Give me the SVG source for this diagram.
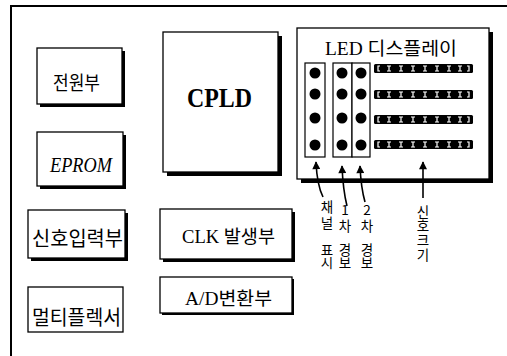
<svg xmlns="http://www.w3.org/2000/svg" xmlns:xlink="http://www.w3.org/1999/xlink" width="507" height="356" viewBox="0 0 507 356">
<style>
.box{fill:#fff;stroke:#000;stroke-width:1.3}
.sh{fill:#000}
.ko{font-family:"Noto Sans CJK KR","Noto Sans",sans-serif;fill:#000}
.se{font-family:"Liberation Serif","Noto Sans CJK KR",serif;fill:#000}
.vt{font-family:"Noto Sans CJK KR",sans-serif;font-size:13.5px;writing-mode:vertical-rl;text-orientation:upright;fill:#000}
.frame{stroke:#000;stroke-width:2;fill:none}
.conn{stroke:#000;stroke-width:1.6;fill:none;marker-end:url(#ah)}
.col{fill:#fff;stroke:#000;stroke-width:1.2}
.iw{stroke:#fff;stroke-width:1.2;fill:none}
</style>
<defs>
<marker id="ah" markerUnits="userSpaceOnUse" viewBox="0 0 10 10" refX="9" refY="5" markerWidth="10" markerHeight="8" orient="auto">
<path d="M0,0 L10,5 L0,10 z" fill="#000"/>
</marker>
<g id="imark"><path class="iw" d="M-2,2H2M-2,7H2M0,2V7"/></g>
<g id="bar">
<rect x="0" y="0" width="99" height="9" rx="1.5" fill="#000"/>
<path class="iw" d="M6,2H4V7H6M93,2H95V7H93"/>
<use xlink:href="#imark" x="15"/>
<use xlink:href="#imark" x="27"/>
<use xlink:href="#imark" x="39"/>
<use xlink:href="#imark" x="51"/>
<use xlink:href="#imark" x="63"/>
<use xlink:href="#imark" x="75"/>
<use xlink:href="#imark" x="86"/>
</g>
</defs>
<rect width="507" height="356" fill="#fff"/>
<path class="frame" d="M11,356V6H507"/>

<g id="power">
<rect class="sh" x="40" y="51" width="85" height="56"/>
<rect class="box" x="37" y="48" width="85" height="56"/>
<text class="ko" x="53" y="90" font-size="19" textLength="47" lengthAdjust="spacingAndGlyphs">전원부</text>
</g>
<g id="eprom">
<rect class="sh" x="40" y="135" width="86" height="54"/>
<rect class="box" x="37" y="132" width="86" height="54"/>
<text class="se" x="50" y="172" font-size="20" font-style="italic" textLength="62" lengthAdjust="spacingAndGlyphs">EPROM</text>
</g>
<g id="signal-input">
<rect class="sh" x="31" y="213" width="97" height="48"/>
<rect class="box" x="28" y="210" width="97" height="48"/>
<text class="ko" x="32" y="246" font-size="20" textLength="91" lengthAdjust="spacingAndGlyphs">신호입력부</text>
</g>
<g id="multiplexer">
<rect class="box" x="28" y="287" width="95" height="45"/>
<text class="ko" x="32" y="325" font-size="20" textLength="89" lengthAdjust="spacingAndGlyphs">멀티플렉서</text>
</g>
<g id="cpld">
<rect class="sh" x="167" y="36" width="115" height="140"/>
<rect class="box" x="163" y="32" width="115" height="140"/>
<text class="se" x="187" y="107" font-size="28" font-weight="bold" textLength="65" lengthAdjust="spacingAndGlyphs">CPLD</text>
</g>
<g id="clk">
<rect class="sh" x="163" y="212" width="132" height="50"/>
<rect class="box" x="160" y="209" width="132" height="50"/>
<text class="se" x="182" y="243" font-size="18" textLength="93" lengthAdjust="spacingAndGlyphs">CLK 발생부</text>
</g>
<g id="adc">
<rect class="sh" x="162" y="279" width="132" height="36"/>
<rect class="box" x="160" y="277" width="132" height="36"/>
<text class="se" x="185" y="305" font-size="18" textLength="87" lengthAdjust="spacingAndGlyphs">A/D변환부</text>
</g>
<g id="led-display">
<rect class="sh" x="301" y="32" width="192" height="151"/>
<rect class="box" x="297" y="28" width="192" height="151"/>
<text class="se" x="325" y="55" font-size="18" textLength="132" lengthAdjust="spacingAndGlyphs">LED 디스플레이</text>
<rect class="col" x="305" y="63" width="20" height="94"/>
<rect class="col" x="333" y="63" width="19" height="94"/>
<rect class="col" x="352" y="63" width="18" height="94"/>
<g fill="#000">
<circle cx="315" cy="73" r="5.5"/><circle cx="315" cy="94" r="5.5"/><circle cx="315" cy="118" r="5.5"/><circle cx="315" cy="145" r="5.5"/>
<circle cx="342" cy="73" r="5.5"/><circle cx="342" cy="94" r="5.5"/><circle cx="342" cy="118" r="5.5"/><circle cx="342" cy="145" r="5.5"/>
<circle cx="361" cy="73" r="5.5"/><circle cx="361" cy="94" r="5.5"/><circle cx="361" cy="118" r="5.5"/><circle cx="361" cy="145" r="5.5"/>
</g>
<use xlink:href="#bar" x="374" y="64"/>
<use xlink:href="#bar" x="374" y="90"/>
<use xlink:href="#bar" x="374" y="115"/>
<use xlink:href="#bar" x="374" y="140"/>
</g>

<g id="connectors">
<path class="conn" d="M323,197 Q317,185 316,162"/>
<path class="conn" d="M347,206 Q343,190 342,166"/>
<path class="conn" d="M365,202 Q361,188 360,166"/>
<path class="conn" d="M423,198 L423,162"/>
</g>

<g id="labels">
<text class="vt" x="327" y="200" letter-spacing="2.5">채널</text>
<text class="vt" x="327" y="243" letter-spacing="-0.5">표시</text>
<text class="vt" x="345" y="203" letter-spacing="3">1차</text>
<text class="vt" x="345" y="243" letter-spacing="-0.5">경보</text>
<text class="vt" x="367" y="203" letter-spacing="3">2차</text>
<text class="vt" x="367" y="243" letter-spacing="-0.5">경보</text>
<text class="vt" x="423" y="205" letter-spacing="0.8">신호크기</text>
</g>
</svg>
